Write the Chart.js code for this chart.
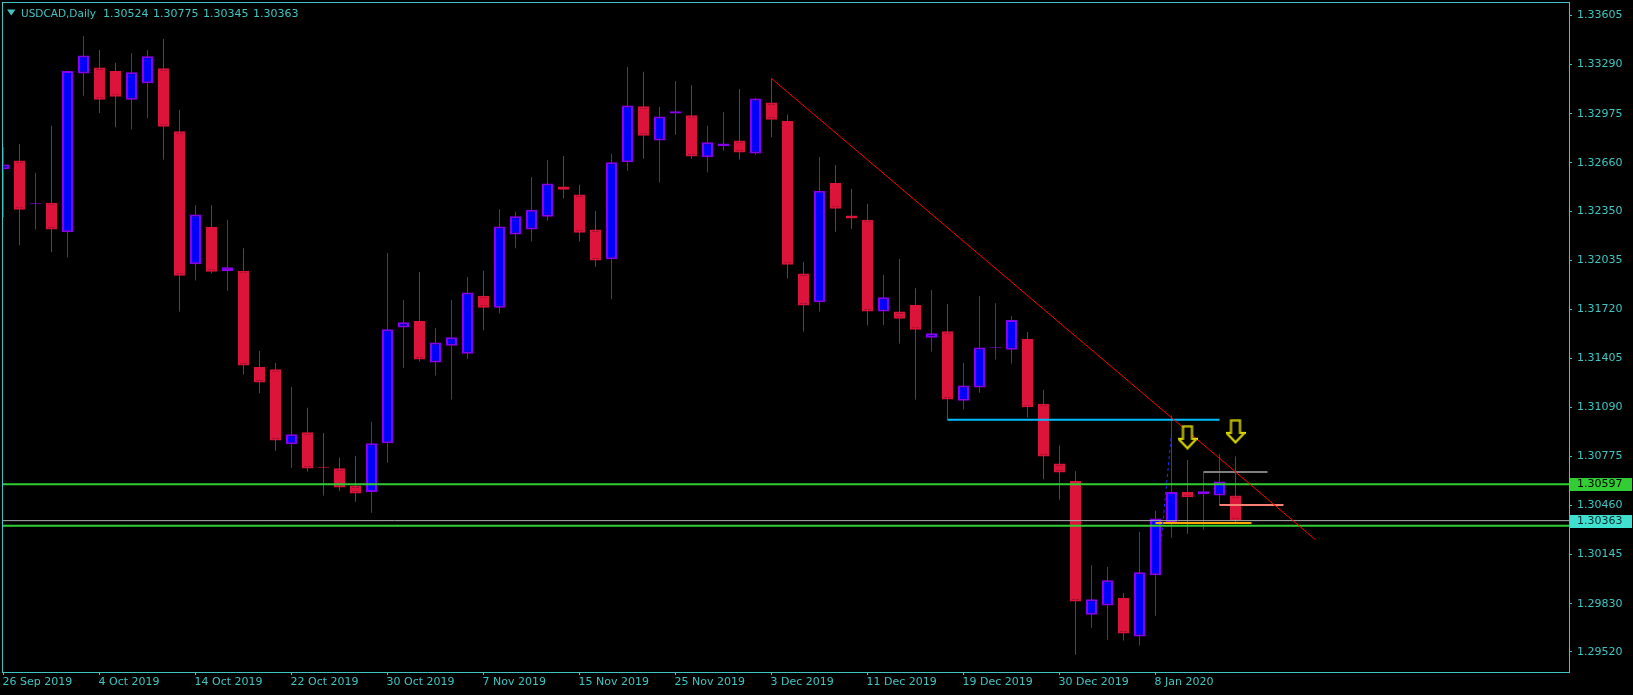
<!DOCTYPE html>
<html>
<head>
<meta charset="utf-8">
<title>USDCAD, Daily</title>
<script src="https://cdn.jsdelivr.net/npm/chart.js@4.4.1/dist/chart.umd.min.js"></script>
<style>
    html, body { margin: 0; padding: 0; background: #000; }
    canvas { display: block; }
</style>
</head>
<body>
<canvas id="chart" width="1633" height="695"></canvas>
<script>
// USDCAD daily candles, 26 Sep 2019 .. 15 Jan 2020
const openPrices = [
    1.32618, 1.32675, 1.32393, 1.32404, 1.32214, 1.33232, 1.33272, 1.33249, 1.33064, 1.33170,
    1.33266, 1.32862, 1.32009, 1.32248, 1.31964, 1.31966, 1.31349, 1.31335, 1.30854, 1.30931,
    1.30706, 1.30700, 1.30589, 1.30547, 1.30860, 1.31602, 1.31645, 1.31378, 1.31486, 1.31434,
    1.31807, 1.31730, 1.32200, 1.32231, 1.32313, 1.32507, 1.32456, 1.32231, 1.32040, 1.32663,
    1.33022, 1.32803, 1.32976, 1.32965, 1.32695, 1.32766, 1.32803, 1.32720, 1.33047, 1.32928,
    1.31949, 1.31764, 1.32530, 1.32322, 1.32294, 1.31705, 1.31705, 1.31747, 1.31537, 1.31579,
    1.31133, 1.31218, 1.31469, 1.31460, 1.31528, 1.31113, 1.30729, 1.30618, 1.29759, 1.29818,
    1.29867, 1.29619, 1.30012, 1.30348, 1.30547, 1.30532, 1.30524, 1.30524
];
const highPrices = [
    1.32760, 1.32780, 1.32595, 1.32897, 1.33252, 1.33474, 1.33383, 1.33301, 1.33363, 1.33383,
    1.33454, 1.32999, 1.32387, 1.32387, 1.32294, 1.32111, 1.31451, 1.31375, 1.31221, 1.31087,
    1.30925, 1.30766, 1.30777, 1.30996, 1.32080, 1.31779, 1.31958, 1.31599, 1.31779, 1.31927,
    1.31966, 1.32362, 1.32345, 1.32569, 1.32678, 1.32703, 1.32518, 1.32350, 1.32717, 1.33275,
    1.33244, 1.33019, 1.33184, 1.33158, 1.32897, 1.32985, 1.33133, 1.33076, 1.33201, 1.32970,
    1.32023, 1.32697, 1.32646, 1.32493, 1.32396, 1.31941, 1.32043, 1.31855, 1.31844, 1.31753,
    1.31375, 1.31804, 1.31759, 1.31676, 1.31574, 1.31201, 1.30846, 1.30680, 1.30077, 1.30066,
    1.29898, 1.30291, 1.30427, 1.31039, 1.30752, 1.30675, 1.30791, 1.30775
];
const lowPrices = [
    1.32310, 1.32131, 1.32231, 1.32086, 1.32052, 1.33090, 1.32979, 1.32888, 1.32874, 1.32945,
    1.32680, 1.31705, 1.31904, 1.31949, 1.31838, 1.31301, 1.31181, 1.30811, 1.30703, 1.30678,
    1.30524, 1.30553, 1.30484, 1.30413, 1.30735, 1.31343, 1.31383, 1.31295, 1.31141, 1.31400,
    1.31585, 1.31693, 1.32111, 1.32154, 1.32288, 1.32430, 1.32154, 1.31992, 1.31784, 1.32609,
    1.32686, 1.32533, 1.32840, 1.32686, 1.32598, 1.32737, 1.32680, 1.32712, 1.32823, 1.31918,
    1.31577, 1.31705, 1.32217, 1.32237, 1.31616, 1.31619, 1.31500, 1.31141, 1.31449, 1.31011,
    1.31076, 1.31184, 1.31397, 1.31372, 1.31025, 1.30629, 1.30498, 1.29503, 1.29676, 1.29599,
    1.29594, 1.29562, 1.29753, 1.30254, 1.30279, 1.30305, 1.30464, 1.30345
];
const closePrices = [
    1.32649, 1.32359, 1.32396, 1.32231, 1.33249, 1.33349, 1.33064, 1.33084, 1.33241, 1.33343,
    1.32891, 1.31935, 1.32328, 1.31961, 1.31989, 1.31358, 1.31249, 1.30877, 1.30917, 1.30698,
    1.30703, 1.30575, 1.30538, 1.30860, 1.31591, 1.31636, 1.31397, 1.31506, 1.31540, 1.31827,
    1.31730, 1.32251, 1.32316, 1.32359, 1.32527, 1.32487, 1.32211, 1.32032, 1.32663, 1.33027,
    1.32834, 1.32956, 1.32991, 1.32700, 1.32791, 1.32783, 1.32726, 1.33073, 1.32936, 1.32006,
    1.31744, 1.32481, 1.32365, 1.32302, 1.31705, 1.31796, 1.31659, 1.31588, 1.31565, 1.31141,
    1.31230, 1.31474, 1.31474, 1.31651, 1.31090, 1.30774, 1.30672, 1.29844, 1.29858, 1.29981,
    1.29639, 1.30032, 1.30376, 1.30547, 1.30513, 1.30552, 1.30615, 1.30363
];

// time axis labels and the bar they belong to
const dateLabels = ['26 Sep 2019', '4 Oct 2019', '14 Oct 2019', '22 Oct 2019', '30 Oct 2019',
    '7 Nov 2019', '15 Nov 2019', '25 Nov 2019', '3 Dec 2019', '11 Dec 2019', '19 Dec 2019',
    '30 Dec 2019', '8 Jan 2020'];
const dateLabelBars = [0, 6, 12, 18, 24, 30, 36, 42, 48, 54, 60, 66, 72];

// price axis labels
const priceLabels = ['1.33605', '1.33290', '1.32975', '1.32660', '1.32350', '1.32035', '1.31720',
    '1.31405', '1.31090', '1.30775', '1.30460', '1.30145', '1.29830', '1.29520'];

// drawings on the chart
const greenLevels = [1.30597, 1.30331];
const trendBars = [48, 81.98];
const trendPrices = [1.33201, 1.30242];
const dotBars = [72.34, 73.02];
const dotPrices = [1.30222, 1.30945];
const segStart = [59, 75, 76, 72];
const segEnd = [76, 79, 80, 78];
const segPrices = [1.31011, 1.30675, 1.30464, 1.30348];
const arrowBars = [74, 77];
const arrowPrices = [1.30898, 1.30936];

const symbolName = 'USDCAD,Daily';

// visible window
const xMin = -0.03125, xMax = 97.84375;
const yMin = 1.293916, yMax = 1.336852;

const TEXT = '#3fc6c3';
const BULL_FILL = '#0000ff', BULL_LINE = '#8a00ea';
const BEAR_FILL = '#dc143c', BEAR_LINE = '#f0001e';
const FONT = '"DejaVu Sans", Verdana, sans-serif';

const last = closePrices.length - 1;
const isBull = openPrices.map((o, i) => closePrices[i] >= o);

const wickData = highPrices.map((h, i) => ({ x: i, y: [lowPrices[i], h] }));
const bodyData = openPrices.map((o, i) => ({ x: i, y: [o, closePrices[i]] }));

// hollow down arrow used as point marker
function makeArrow() {
    const c = document.createElement('canvas');
    c.width = 20;
    c.height = 25;
    const g = c.getContext('2d');
    g.beginPath();
    g.moveTo(5.5, 1.5);
    g.lineTo(14.5, 1.5);
    g.lineTo(14.5, 14);
    g.lineTo(19, 14);
    g.lineTo(10, 23.5);
    g.lineTo(1, 14);
    g.lineTo(5.5, 14);
    g.closePath();
    g.fillStyle = '#000';
    g.fill();
    g.lineWidth = 2;
    g.strokeStyle = '#ffff00';
    g.stroke();
    g.lineWidth = 0.7;
    g.strokeStyle = '#9a9000';
    g.stroke();
    return c;
}

function hLine(price, from, to) {
    return [{ x: from, y: price }, { x: to, y: price }];
}

const lineBase = { type: 'line', pointRadius: 0, tension: 0, fill: false, borderCapStyle: 'butt' };
const segColors = ['#00bfff', '#808080', '#fa8072', '#ffa500'];

const datasets = [
    {
        type: 'bar', data: wickData, order: 20, grouped: false,
        barThickness: 1, inflateAmount: 0, borderWidth: 0, borderSkipped: false,
        backgroundColor: isBull.map(b => b ? BULL_LINE : BEAR_LINE)
    },
    {
        type: 'bar', data: bodyData, order: 19, grouped: false,
        barThickness: 11, inflateAmount: 0, minBarLength: 1, borderSkipped: false,
        borderWidth: 2,
        backgroundColor: isBull.map(b => b ? BULL_FILL : BEAR_FILL),
        borderColor: isBull.map(b => b ? BULL_LINE : BEAR_FILL)
    },
    { ...lineBase, data: hLine(closePrices[last], xMin, xMax), borderColor: '#b0b0b0', borderWidth: 1, order: 9 },
    ...greenLevels.map(p => ({ ...lineBase, data: hLine(p, xMin, xMax), borderColor: '#32cd32', borderWidth: 2, order: 8 })),
    ...segPrices.map((p, k) => ({ ...lineBase, data: hLine(p, segStart[k], segEnd[k]), borderColor: segColors[k], borderWidth: 2, order: 7 })),
    {
        ...lineBase, order: 6, borderColor: '#ff0000', borderWidth: 1,
        data: trendBars.map((b, k) => ({ x: b, y: trendPrices[k] }))
    },
    {
        ...lineBase, order: 5, borderColor: '#1e32ff', borderWidth: 1, borderDash: [3, 3],
        data: dotBars.map((b, k) => ({ x: b, y: dotPrices[k] }))
    },
    {
        type: 'line', order: 1, showLine: false, pointStyle: makeArrow(),
        data: arrowBars.map((b, k) => ({ x: b, y: arrowPrices[k] }))
    }
];

const mtDecor = {
    id: 'mtDecor',
    beforeDraw(chart) {
        const ctx = chart.ctx;
        ctx.save();
        ctx.fillStyle = '#000';
        ctx.fillRect(0, 0, chart.width, chart.height);
        ctx.restore();
    },
    afterDraw(chart) {
        const ctx = chart.ctx;
        const a = chart.chartArea;
        const y = chart.scales.y;
        ctx.save();
        // frame
        ctx.strokeStyle = TEXT;
        ctx.lineWidth = 1;
        ctx.strokeRect(a.left - 0.5, a.top - 0.5, a.right - a.left + 1, a.bottom - a.top + 1);

        // header: symbol and O H L C of the last bar
        ctx.fillStyle = TEXT;
        ctx.beginPath();
        ctx.moveTo(7, 9.5);
        ctx.lineTo(15.5, 9.5);
        ctx.lineTo(11.25, 15.5);
        ctx.closePath();
        ctx.fill();
        ctx.font = '10.5px ' + FONT;
        ctx.textBaseline = 'alphabetic';
        ctx.textAlign = 'left';
        ctx.fillText(symbolName, 21, 16.5);
        ctx.font = '11px ' + FONT;
        [openPrices[last], highPrices[last], lowPrices[last], closePrices[last]]
            .forEach((v, k) => ctx.fillText(v.toFixed(5), 103 + 50 * k, 16.5));

        // price tags on the axis
        const tags = [[greenLevels[0], '#32cd32', '#000'], [closePrices[last], '#40e0d0', '#0a2a2a']];
        ctx.textBaseline = 'middle';
        tags.forEach(([p, bg, fg]) => {
            const py = Math.round(y.getPixelForValue(p));
            ctx.fillStyle = bg;
            ctx.fillRect(a.right + 1, py - 6, 62, 13);
            ctx.fillStyle = fg;
            ctx.fillText(p.toFixed(5), a.right + 8, py + 0.5);
        });
        ctx.restore();
    }
};

new Chart(document.getElementById('chart'), {
    type: 'bar',
    data: { datasets },
    options: {
        responsive: false,
        animation: false,
        events: [],
        layout: { padding: { top: 3, left: 3, right: 0, bottom: 0 }, autoPadding: false },
        plugins: { legend: { display: false }, tooltip: { enabled: false }, title: { display: false } },
        scales: {
            x: {
                type: 'linear', position: 'bottom', offset: false,
                min: xMin, max: xMax,
                afterBuildTicks: s => { s.ticks = dateLabelBars.map(v => ({ value: v })); },
                afterFit: s => { s.height = 23; s.paddingLeft = 0; s.paddingRight = 0; },
                ticks: {
                    autoSkip: false, maxRotation: 0, align: 'start', padding: 1, labelOffset: -1,
                    color: TEXT, font: { family: FONT, size: 11 },
                    callback: (v, i) => dateLabels[i]
                },
                grid: { drawOnChartArea: false, tickLength: 3, tickColor: TEXT, offset: false },
                border: { display: false }
            },
            y: {
                type: 'linear', position: 'right',
                min: yMin, max: yMax,
                afterBuildTicks: s => { s.ticks = priceLabels.map(t => ({ value: parseFloat(t) })); },
                afterFit: s => { s.width = 64; s.paddingTop = 0; s.paddingBottom = 0; },
                ticks: {
                    autoSkip: false, padding: 5,
                    color: TEXT, font: { family: FONT, size: 11 },
                    callback: (v, i) => priceLabels[i]
                },
                grid: { drawOnChartArea: false, tickLength: 3, tickColor: TEXT },
                border: { display: false }
            }
        }
    },
    plugins: [mtDecor]
});
</script>
</body>
</html>
